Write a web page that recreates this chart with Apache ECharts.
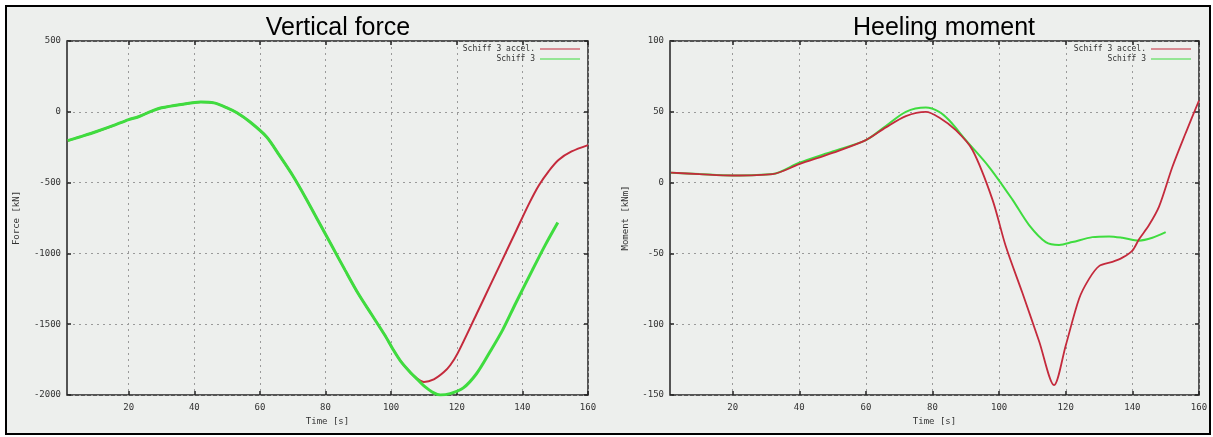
<!DOCTYPE html>
<html>
<head>
<meta charset="utf-8">
<script src="https://cdn.jsdelivr.net/npm/echarts@6/dist/echarts.min.js"></script>
<style>
html,body{margin:0;padding:0;background:#fff;}
#c{width:1213px;height:437px;}
</style>
</head>
<body>
<div id="c"></div>
<script>
// ---- data ----
var titles = ['Vertical force', 'Heeling moment'];
var seriesNames = ['Schiff 3 accel.', 'Schiff 3'];
var xTicks = [20, 40, 60, 80, 100, 120, 140, 160];
var xName = 'Time [s]';
var yNames = ['Force [kN]', 'Moment [kNm]'];

// Vertical force [kN] vs time [s]
var forceAccel = [
  [1.4,-204],[5,-178],[10,-141],[15,-100],[20,-55],[23,-35],[27,5],[30,28],[36,52],[42,70],[46,63],
  [50,28],[53,-7],[57,-72],[62,-176],[66,-310],[70,-450],[74,-610],[78,-780],[82,-950],[86,-1120],
  [90,-1285],[94,-1430],[98,-1575],[100.5,-1675],[103,-1765],[106,-1845],[108,-1885],[110,-1908],
  [113,-1890],[116,-1840],[118,-1790],[120.3,-1704],[126,-1430],[130,-1235],[134,-1040],[138,-845],
  [142,-650],[145,-520],[148,-420],[151,-340],[155,-280],[160,-235]
];
var forcePlain = [
  [1.4,-204],[5,-178],[10,-141],[15,-100],[20,-55],[23,-35],[27,5],[30,28],[36,52],[42,70],[46,63],
  [50,28],[53,-7],[57,-72],[62,-176],[66,-310],[70,-450],[74,-610],[78,-780],[82,-950],[86,-1120],
  [90,-1285],[94,-1430],[98,-1575],[100.5,-1675],[103,-1765],[106,-1845],[108,-1890],[110,-1935],
  [113,-1985],[115,-2000],[118,-1990],[122,-1950],[126,-1850],[130,-1700],[134,-1540],[138,-1350],
  [143,-1120],[147,-940],[150.8,-782]
];

// Heeling moment [kNm] vs time [s]
var momentAccel = [
  [1.5,7],[10,6],[20,5],[32,6],[40,13],[50,21],[60,30],[66,39],[72,47],[78,50],[82,46],[87,37],
  [92,23],[98,-12],[102,-45],[107,-78],[112,-112],[116.5,-143],[120,-115],[124,-82],[127,-68],
  [130,-59],[134,-56],[137,-53],[140,-48],[142,-40],[145,-30],[148,-17],[152,11],[156,35],[160,58]
];
var momentPlain = [
  [1.5,7],[10,6],[20,5],[32,6],[40,14],[50,22],[60,30],[66,40],[72,50],[78,53],[82,50],[85,44],
  [90,30],[97,11],[104,-12],[109,-30],[114,-42],[118,-44],[122,-42],[128,-38.5],[133,-38],
  [137,-39],[142,-41],[146,-39],[150,-35]
];

// ---- chart ----
var RED = '#c42a3c', GREEN = '#3fdc3f';
var tickFont = {fontFamily: 'DejaVu Sans Mono', fontSize: 9, color: '#333'};
var grids = [
  {left: 67, top: 41, width: 521, height: 354, show: true, borderColor: '#222', borderWidth: 1.5, backgroundColor: 'transparent'},
  {left: 670, top: 41, width: 529, height: 354, show: true, borderColor: '#222', borderWidth: 1.5, backgroundColor: 'transparent'}
];
function xAx(gi, top) {
  return {
    type: 'value', gridIndex: gi, min: 1.2, max: 160, position: top ? 'top' : 'bottom',
    name: top ? '' : xName, nameLocation: 'middle', nameGap: 21,
    nameTextStyle: {fontFamily: 'DejaVu Sans Mono', fontSize: 9, color: '#333'},
    axisLine: {show: false, onZero: false},
    axisTick: {show: true, inside: true, length: 4, customValues: xTicks, lineStyle: {color: '#222', width: 1.5}},
    axisLabel: top ? {show: false, customValues: xTicks} : Object.assign({margin: 8, customValues: xTicks}, tickFont),
    splitLine: {show: !top, lineStyle: {type: [2, 4], color: '#9a9a9a', width: 1}}
  };
}
function yAx(gi, mn, mx, iv, right, nm, gap) {
  return {
    type: 'value', gridIndex: gi, min: mn, max: mx, interval: iv, position: right ? 'right' : 'left',
    name: right ? '' : nm, nameLocation: 'middle', nameGap: gap, nameRotate: 90,
    nameTextStyle: {fontFamily: 'DejaVu Sans Mono', fontSize: 9, color: '#333'},
    axisLine: {show: false, onZero: false},
    axisTick: {show: true, inside: true, length: 4, lineStyle: {color: '#222', width: 1.5}},
    axisLabel: right ? {show: false} : Object.assign({margin: 6, formatter: function (v) { return String(v); }}, tickFont),
    splitLine: {show: !right, lineStyle: {type: [2, 4], color: '#9a9a9a', width: 1}}
  };
}
function legend(rightPx) {
  return {
    orient: 'vertical', right: rightPx, top: 45, align: 'right', itemGap: 2,
    itemWidth: 40, itemHeight: 6, icon: 'path://M0,3 L40,3 L40,4 L0,4 Z',
    data: seriesNames,
    textStyle: {fontFamily: 'DejaVu Sans Mono', fontSize: 8, color: '#333', padding: [0, 0, 0, 0]},
    backgroundColor: 'transparent', selectedMode: false, padding: 0
  };
}
function line(name, data, xi, yi, color, w, z) {
  return {
    type: 'line', name: name, data: data, xAxisIndex: xi, yAxisIndex: yi,
    showSymbol: false, smooth: 0.3, z: z, color: color,
    lineStyle: {color: color, width: w}, emphasis: {disabled: true}
  };
}
var option = {
  animation: false,
  backgroundColor: '#ffffff',
  graphic: [
    {type: 'rect', shape: {x: 6, y: 6, width: 1204, height: 428}, style: {fill: '#edefed', stroke: '#000', lineWidth: 2}, z: -10, silent: true}
  ],
  title: [
    {text: titles[0], left: 333, top: 11, textAlign: 'center', textStyle: {fontFamily: 'Liberation Sans', fontSize: 25, fontWeight: 'normal', color: '#000'}},
    {text: titles[1], left: 939, top: 11, textAlign: 'center', textStyle: {fontFamily: 'Liberation Sans', fontSize: 25, fontWeight: 'normal', color: '#000'}}
  ],
  legend: [legend(1213 - 580), legend(1213 - 1191)],
  grid: grids,
  xAxis: [xAx(0, false), xAx(1, false), xAx(0, true), xAx(1, true)],
  yAxis: [
    yAx(0, -2000, 500, 500, false, yNames[0], 46),
    yAx(1, -150, 100, 50, false, yNames[1], 40),
    yAx(0, -2000, 500, 500, true, '', 0),
    yAx(1, -150, 100, 50, true, '', 0)
  ],
  series: [
    line(seriesNames[0], forceAccel, 0, 0, RED, 2, 3),
    line(seriesNames[1], forcePlain, 0, 0, GREEN, 3, 4),
    line(seriesNames[0], momentAccel, 1, 1, RED, 1.8, 4),
    line(seriesNames[1], momentPlain, 1, 1, GREEN, 2, 3)
  ]
};
var chart = echarts.init(document.getElementById('c'), null, {renderer: 'canvas'});
chart.setOption(option);
</script>
</body>
</html>
